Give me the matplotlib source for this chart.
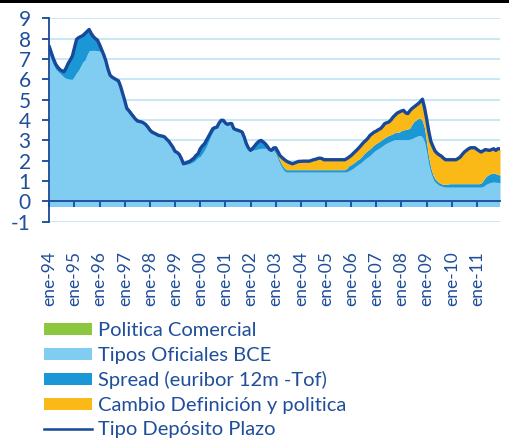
import matplotlib
matplotlib.use("Agg")
import matplotlib.pyplot as plt
from matplotlib.patches import Patch, Rectangle
from matplotlib.lines import Line2D
import numpy as np

plt.rcParams['font.family'] = ['Lato', 'DejaVu Sans']

# Etiquetas del eje de categorías (un tick cada enero)
etiquetas = ['ene-94', 'ene-95', 'ene-96', 'ene-97', 'ene-98', 'ene-99',
             'ene-00', 'ene-01', 'ene-02', 'ene-03', 'ene-04', 'ene-05',
             'ene-06', 'ene-07', 'ene-08', 'ene-09', 'ene-10', 'ene-11']

# Series mensuales ene-1994 .. dic-2011 (una fila por año)
tipo_deposito = [
    7.60, 7.30, 7.00, 6.75, 6.60, 6.48, 6.42, 6.37, 6.55, 6.78, 6.95, 7.14,
    7.55, 7.96, 8.05, 8.10, 8.15, 8.25, 8.35, 8.45, 8.25, 8.10, 8.00, 7.92,
    7.70, 7.45, 7.20, 6.90, 6.50, 6.20, 6.10, 6.04, 5.98, 5.92, 5.65, 5.30,
    4.95, 4.56, 4.45, 4.31, 4.18, 4.05, 3.95, 3.92, 3.90, 3.85, 3.77, 3.65,
    3.50, 3.40, 3.35, 3.30, 3.24, 3.22, 3.20, 3.16, 3.05, 2.95, 2.80, 2.65,
    2.45, 2.40, 2.30, 2.10, 1.84, 1.88, 1.92, 1.96, 2.04, 2.12, 2.25, 2.34,
    2.58, 2.72, 2.82, 3.00, 3.19, 3.38, 3.57, 3.62, 3.65, 3.85, 3.98, 3.98,
    3.85, 3.78, 3.82, 3.82, 3.57, 3.52, 3.49, 3.45, 3.40, 3.15, 2.83, 2.62,
    2.50, 2.60, 2.72, 2.85, 2.95, 2.99, 2.92, 2.83, 2.70, 2.55, 2.50, 2.62,
    2.63, 2.45, 2.25, 2.15, 2.06, 1.98, 1.92, 1.88, 1.84, 1.88, 1.92, 1.96,
    1.96, 1.97, 1.97, 1.97, 1.97, 2.00, 2.04, 2.06, 2.10, 2.12, 2.10, 2.04,
    2.04, 2.04, 2.04, 2.04, 2.04, 2.04, 2.04, 2.04, 2.04, 2.04, 2.10, 2.17,
    2.25, 2.35, 2.45, 2.55, 2.66, 2.78, 2.90, 2.99, 3.10, 3.24, 3.32, 3.40,
    3.45, 3.52, 3.57, 3.68, 3.82, 3.86, 3.90, 4.00, 4.14, 4.24, 4.34, 4.39,
    4.44, 4.47, 4.35, 4.31, 4.45, 4.56, 4.64, 4.72, 4.80, 4.90, 5.02, 4.60,
    4.05, 3.45, 2.95, 2.70, 2.47, 2.36, 2.28, 2.22, 2.12, 2.04, 2.04, 2.04,
    2.04, 2.04, 2.04, 2.10, 2.17, 2.30, 2.42, 2.50, 2.58, 2.63, 2.63, 2.63,
    2.55, 2.48, 2.42, 2.48, 2.54, 2.52, 2.50, 2.54, 2.58, 2.50, 2.58, 2.58,
]

politica_comercial = [0.0] * 216

tipos_oficiales = [
    7.20, 6.95, 6.70, 6.50, 6.40, 6.30, 6.20, 6.10, 6.05, 6.02, 6.00, 6.00,
    6.15, 6.32, 6.45, 6.65, 6.85, 6.94, 7.20, 7.40, 7.42, 7.42, 7.42, 7.40,
    7.38, 7.30, 7.10, 6.80, 6.45, 6.15, 6.05, 6.00, 5.93, 5.85, 5.60, 5.30,
    4.95, 4.60, 4.45, 4.35, 4.20, 4.10, 4.00, 3.95, 3.90, 3.85, 3.78, 3.65,
    3.50, 3.42, 3.35, 3.30, 3.26, 3.22, 3.20, 3.18, 3.08, 2.95, 2.78, 2.62,
    2.40, 2.35, 2.25, 2.00, 1.80, 1.80, 1.82, 1.85, 1.90, 1.95, 2.05, 2.15,
    2.20, 2.35, 2.50, 2.70, 2.95, 3.20, 3.40, 3.55, 3.60, 3.80, 3.95, 3.98,
    3.80, 3.75, 3.78, 3.78, 3.55, 3.50, 3.48, 3.43, 3.38, 3.12, 2.80, 2.60,
    2.50, 2.50, 2.52, 2.55, 2.58, 2.60, 2.60, 2.60, 2.58, 2.55, 2.50, 2.50,
    2.35, 2.10, 1.85, 1.65, 1.50, 1.43, 1.43, 1.43, 1.43, 1.43, 1.43, 1.43,
    1.43, 1.43, 1.43, 1.43, 1.43, 1.43, 1.43, 1.43, 1.43, 1.43, 1.43, 1.43,
    1.43, 1.43, 1.43, 1.43, 1.43, 1.43, 1.43, 1.43, 1.43, 1.43, 1.45, 1.50,
    1.55, 1.62, 1.70, 1.78, 1.84, 1.92, 2.02, 2.10, 2.17, 2.25, 2.35, 2.45,
    2.52, 2.58, 2.65, 2.72, 2.80, 2.86, 2.91, 2.95, 3.00, 3.03, 3.03, 3.03,
    3.03, 3.03, 3.03, 3.03, 3.05, 3.08, 3.13, 3.18, 3.22, 3.24, 3.15, 2.90,
    2.40, 1.80, 1.40, 1.10, 0.94, 0.85, 0.78, 0.74, 0.71, 0.69, 0.69, 0.69,
    0.69, 0.69, 0.69, 0.69, 0.69, 0.69, 0.69, 0.69, 0.69, 0.69, 0.69, 0.69,
    0.69, 0.69, 0.69, 0.72, 0.80, 0.86, 0.90, 0.93, 0.94, 0.93, 0.92, 0.90,
]

spread_euribor = [
    0.40, 0.35, 0.30, 0.25, 0.20, 0.18, 0.22, 0.27, 0.50, 0.76, 0.95, 1.14,
    1.40, 1.64, 1.60, 1.45, 1.30, 1.31, 1.15, 1.05, 0.83, 0.68, 0.58, 0.52,
    0.32, 0.15, 0.10, 0.10, 0.05, 0.05, 0.05, 0.04, 0.05, 0.07, 0.05, 0.05,
    0.05, 0.08, 0.10, 0.08, 0.08, 0.05, 0.05, 0.05, 0.05, 0.06, 0.08, 0.10,
    0.10, 0.08, 0.08, 0.08, 0.06, 0.06, 0.05, 0.05, 0.05, 0.05, 0.05, 0.05,
    0.05, 0.05, 0.05, 0.10, 0.10, 0.12, 0.15, 0.18, 0.20, 0.25, 0.25, 0.28,
    0.38, 0.37, 0.32, 0.30, 0.24, 0.18, 0.17, 0.07, 0.05, 0.05, 0.03, 0.02,
    0.05, 0.03, 0.04, 0.04, 0.02, 0.02, 0.01, 0.02, 0.02, 0.03, 0.03, 0.02,
    0.00, 0.10, 0.20, 0.30, 0.37, 0.39, 0.32, 0.23, 0.12, 0.00, 0.00, 0.12,
    0.15, 0.15, 0.15, 0.15, 0.15, 0.12, 0.12, 0.12, 0.12, 0.12, 0.12, 0.12,
    0.12, 0.12, 0.12, 0.12, 0.12, 0.12, 0.12, 0.12, 0.12, 0.12, 0.12, 0.12,
    0.12, 0.12, 0.12, 0.12, 0.12, 0.12, 0.12, 0.12, 0.12, 0.12, 0.18, 0.25,
    0.25, 0.25, 0.25, 0.25, 0.25, 0.28, 0.30, 0.32, 0.33, 0.33, 0.33, 0.33,
    0.33, 0.33, 0.33, 0.33, 0.33, 0.33, 0.33, 0.33, 0.33, 0.35, 0.37, 0.37,
    0.45, 0.48, 0.50, 0.52, 0.55, 0.70, 0.80, 0.82, 0.85, 0.85, 0.80, 0.70,
    0.50, 0.35, 0.25, 0.20, 0.16, 0.14, 0.13, 0.12, 0.12, 0.13, 0.15, 0.17,
    0.17, 0.17, 0.17, 0.17, 0.17, 0.17, 0.17, 0.17, 0.17, 0.17, 0.17, 0.17,
    0.17, 0.17, 0.20, 0.30, 0.38, 0.41, 0.43, 0.44, 0.44, 0.42, 0.40, 0.37,
]

cambio_definicion = [
    0.0] * 108 + [
    0.13, 0.20, 0.25, 0.35, 0.41, 0.43, 0.37, 0.33, 0.29, 0.33, 0.37, 0.41,
    0.41, 0.42, 0.42, 0.42, 0.42, 0.45, 0.49, 0.51, 0.55, 0.57, 0.55, 0.49,
    0.49, 0.49, 0.49, 0.49, 0.49, 0.49, 0.49, 0.49, 0.49, 0.49, 0.47, 0.42,
    0.45, 0.48, 0.50, 0.52, 0.57, 0.58, 0.58, 0.57, 0.60, 0.66, 0.64, 0.62,
    0.60, 0.61, 0.59, 0.63, 0.69, 0.67, 0.66, 0.72, 0.81, 0.86, 0.94, 0.99,
    0.96, 0.96, 0.82, 0.76, 0.85, 0.78, 0.71, 0.72, 0.73, 0.81, 1.07, 1.00,
    1.15, 1.30, 1.30, 1.40, 1.37, 1.37, 1.37, 1.36, 1.29, 1.22, 1.20, 1.18,
    1.18, 1.18, 1.18, 1.24, 1.31, 1.44, 1.56, 1.64, 1.72, 1.77, 1.77, 1.77,
    1.69, 1.62, 1.53, 1.46, 1.36, 1.25, 1.17, 1.17, 1.20, 1.15, 1.26, 1.31,
]

C_VERDE = '#8DC63F'
C_CELESTE = '#80CDF1'
C_AZUL = '#1C97D5'
C_AMARILLO = '#FBB917'
C_LINEA = '#17489A'
C_TEXTO = '#1F4E9A'
C_REJILLA = '#C4E6F7'

x = np.arange(len(tipo_deposito))
capas = [np.array(politica_comercial), np.array(tipos_oficiales),
         np.array(spread_euribor), np.array(cambio_definicion)]
colores = [C_VERDE, C_CELESTE, C_AZUL, C_AMARILLO]

fig = plt.figure(figsize=(5.10, 4.41), dpi=100)
ax = fig.add_axes([49.3 / 510, 1 - 221.5 / 441, (500 - 49.3) / 510, (221.5 - 18.3) / 441])

# Rejilla horizontal
for v in range(-1, 10):
    if v != 0:
        ax.axhline(v, color=C_REJILLA, lw=1.3, zorder=0)

# Banda bajo el eje cero
ax.axhspan(-0.3, 0, color=C_CELESTE, lw=0, zorder=1)

# Áreas apiladas
base = np.zeros(len(x))
for capa, col in zip(capas, colores):
    ax.fill_between(x, base, base + capa, color=col, lw=0, zorder=2)
    base = base + capa

ax.plot(x, tipo_deposito, color=C_LINEA, lw=2.4, zorder=4,
        solid_joinstyle='round')

ax.set_xlim(0, len(x) - 1)
ax.set_ylim(-1, 9)

for s in ['top', 'right']:
    ax.spines[s].set_visible(False)
ax.spines['bottom'].set_position(('data', 0))
for s in ['left', 'bottom']:
    ax.spines[s].set_color(C_LINEA)
    ax.spines[s].set_linewidth(1.3)
    ax.spines[s].set_zorder(5)

ax.set_yticks(range(-1, 10))
ax.set_yticklabels([str(v) for v in range(-1, 10)])
ax.tick_params(axis='y', direction='out', length=5.4, width=1.3, color=C_LINEA,
               labelcolor=C_TEXTO, labelsize=15, pad=8)

ax.set_xticks(np.arange(0, len(x), 12))
ax.set_xticklabels(etiquetas, rotation=90, va='top', ha='center')
ax.tick_params(axis='x', direction='out', length=4, width=1.3, color=C_LINEA,
               labelcolor=C_TEXTO, labelsize=12.5, pad=32)

# Leyenda
handles = [Patch(facecolor=C_VERDE, edgecolor='none'),
           Patch(facecolor=C_CELESTE, edgecolor='none'),
           Patch(facecolor=C_AZUL, edgecolor='none'),
           Patch(facecolor=C_AMARILLO, edgecolor='none'),
           Line2D([], [], color=C_LINEA, lw=1.8)]
labels = ['Politica Comercial', 'Tipos Oficiales BCE', 'Spread (euribor 12m -Tof)',
          'Cambio Definición y politica', 'Tipo Depósito Plazo']
leg = fig.legend(handles, labels, loc='upper left', bbox_to_anchor=(44 / 510, 1 - 322.5 / 441),
                 frameon=False, fontsize=14.5, handlelength=2.4, handleheight=0.53,
                 handletextpad=0.28, labelspacing=0.37, borderpad=0, borderaxespad=0)
for t in leg.get_texts():
    t.set_color(C_TEXTO)

# Filete superior
fig.patches.append(Rectangle((0, 1 - 3 / 441), 1, 3 / 441, transform=fig.transFigure,
                             facecolor='black', edgecolor='none'))

fig.savefig('out.png', dpi=100)
